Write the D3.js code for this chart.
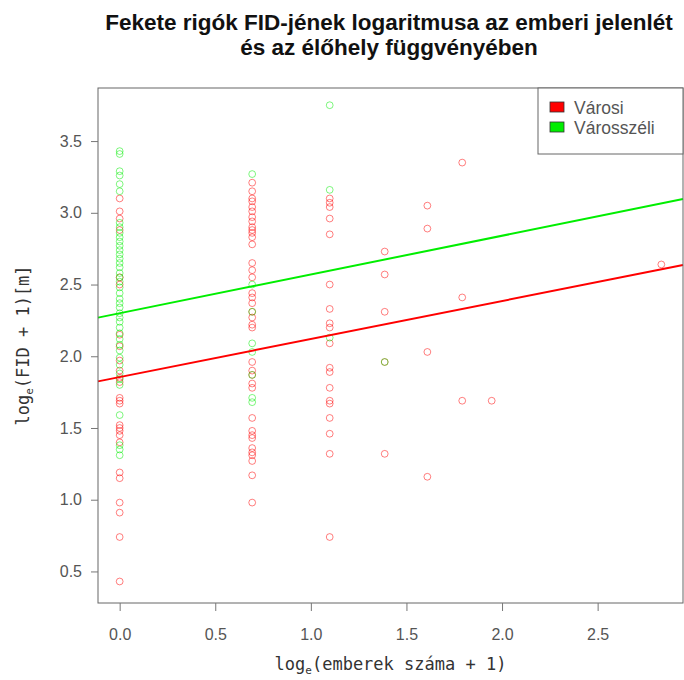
<!DOCTYPE html>
<html><head><meta charset="utf-8">
<script src="https://cdn.jsdelivr.net/npm/d3@7"></script>
<style>body{margin:0;background:#fff}</style>
</head><body><svg id="c" width="684" height="680"></svg>
<script>
// x values: log_e(number of people + 1)
const xLevels = [0, Math.log(2), Math.log(3), Math.log(4), Math.log(5), Math.log(6), Math.log(7), Math.log(17)];
// Városi (urban) y values per x level
const urbanY = [
  [3.10, 3.01, 2.96, 2.88, 2.55, 2.50, 2.15, 2.07, 1.97, 1.90, 1.85, 1.82, 1.71, 1.69, 1.67, 1.52, 1.50, 1.48, 1.45, 1.40, 1.19, 1.15, 0.98, 0.91, 0.74, 0.43],
  [3.21, 3.15, 3.10, 3.08, 3.04, 3.01, 2.97, 2.94, 2.90, 2.88, 2.86, 2.83, 2.78, 2.65, 2.60, 2.55, 2.44, 2.41, 2.37, 2.31, 2.27, 2.22, 2.20, 1.96, 1.90, 1.87, 1.81, 1.78, 1.57, 1.48, 1.45, 1.43, 1.36, 1.33, 1.31, 1.27, 1.17, 0.98],
  [3.10, 3.07, 3.04, 2.96, 2.85, 2.50, 2.33, 2.23, 2.20, 2.09, 1.92, 1.89, 1.78, 1.69, 1.67, 1.57, 1.46, 1.32, 0.74],
  [2.73, 2.57, 2.31, 1.96, 1.32],
  [3.05, 2.89, 2.03, 1.16],
  [3.35, 2.41, 1.69],
  [1.69],
  [2.64]
];
// Városszéli (suburban) y values per x level
const suburbanY = [
  [3.43, 3.41, 3.29, 3.26, 3.20, 3.15, 2.93, 2.90, 2.86, 2.83, 2.80, 2.77, 2.74, 2.71, 2.68, 2.65, 2.62, 2.58, 2.55, 2.52, 2.48, 2.44, 2.40, 2.37, 2.34, 2.30, 2.27, 2.24, 2.20, 2.16, 2.12, 2.08, 2.04, 1.99, 1.94, 1.88, 1.84, 1.80, 1.59, 1.38, 1.35, 1.31],
  [3.27, 2.50, 2.31, 2.09, 2.03, 1.87, 1.71, 1.68],
  [3.75, 3.16, 2.13],
  [1.96],
  [], [], [], []
];
// fitted lines (intercept, slope)
const urbanFit = [1.855, 0.265];
const suburbanFit = [2.30, 0.27];
const xTicks = [0, 0.5, 1, 1.5, 2, 2.5];
const yTicks = [0.5, 1, 1.5, 2, 2.5, 3, 3.5];
const groups = ["Városi", "Városszéli"];
const groupColors = ["#ff0000", "#00ee00"];

const svg = d3.select("#c");
const L = 98, R = 683, T = 88, B = 603;
const xMax = d3.max(xLevels), xPad = 0.04 * xMax;
const x = d3.scaleLinear().domain([-xPad, xMax + xPad]).range([L, R]);
const y = d3.scaleLinear().domain([0.28, 3.87]).range([B, T]);

const flat = (arr) => arr.flatMap((ys, i) => ys.map(v => ({x: xLevels[i], y: v})));
const series = [flat(urbanY), flat(suburbanY)];

// points
series.forEach((pts, gi) => {
  svg.append("g").selectAll("circle").data(pts).enter().append("circle")
    .attr("cx", d => x(d.x)).attr("cy", d => y(d.y)).attr("r", 3.4)
    .attr("fill", "none").attr("stroke", groupColors[gi])
    .attr("stroke-opacity", 0.5).attr("stroke-width", 1);
});

// fit lines
[urbanFit, suburbanFit].forEach((f, gi) => {
  const [x0, x1] = x.domain();
  svg.append("line")
    .attr("x1", x(x0)).attr("y1", y(f[0] + f[1] * x0))
    .attr("x2", x(x1)).attr("y2", y(f[0] + f[1] * x1))
    .attr("stroke", groupColors[gi]).attr("stroke-width", 2);
});

// box
svg.append("rect").attr("x", L).attr("y", T).attr("width", R - L).attr("height", B - T)
  .attr("fill", "none").attr("stroke", "#666").attr("stroke-width", 1);

// axes
const xa = svg.append("g").attr("transform", `translate(0,${B})`)
  .call(d3.axisBottom(x).tickValues(xTicks).tickFormat(d3.format(".1f")).tickSize(8).tickPadding(18));
const ya = svg.append("g").attr("transform", `translate(${L},0)`)
  .call(d3.axisLeft(y).tickValues(yTicks).tickFormat(d3.format(".1f")).tickSize(7).tickPadding(9));
[xa, ya].forEach(a => {
  a.select(".domain").remove();
  a.selectAll("line").attr("stroke", "#777");
  a.selectAll("text").attr("fill", "#555").style("font-family", "Liberation Sans, Arial, sans-serif").style("font-size", "16px");
});

// title
const title = svg.append("text").attr("x", (L + R) / 2).attr("text-anchor", "middle")
  .style("font-family", "Liberation Sans, Arial, sans-serif").style("font-weight", "bold").style("font-size", "22.5px").attr("fill", "#111");
title.append("tspan").attr("x", 389).attr("y", 30).text("Fekete rigók FID-jének logaritmusa az emberi jelenlét");
title.append("tspan").attr("x", 389).attr("y", 55).text("és az élőhely függvényében");

// axis labels (monospace)
const xl = svg.append("text").attr("x", (L + R) / 2).attr("y", 670).attr("text-anchor", "middle")
  .style("font-family", "DejaVu Sans Mono, monospace").style("font-size", "17px").attr("fill", "#333");
xl.append("tspan").text("log");
xl.append("tspan").attr("dy", 4).style("font-size", "11px").text("e");
xl.append("tspan").attr("dy", -4).text("(emberek száma + 1)");

const yl = svg.append("text").attr("transform", `translate(29,${(T + B) / 2}) rotate(-90)`).attr("text-anchor", "middle")
  .style("font-family", "DejaVu Sans Mono, monospace").style("font-size", "17px").attr("fill", "#333");
yl.append("tspan").text("log");
yl.append("tspan").attr("dy", 4).style("font-size", "11px").text("e");
yl.append("tspan").attr("dy", -4).text("(FID + 1)[m]");

// legend
const lg = svg.append("g");
lg.append("rect").attr("x", 538).attr("y", T).attr("width", R - 538).attr("height", 66)
  .attr("fill", "#fff").attr("stroke", "#666");
groups.forEach((g, i) => {
  lg.append("rect").attr("x", 550).attr("y", 102 + i * 20).attr("width", 14).attr("height", 10)
    .attr("fill", groupColors[i]).attr("stroke", "#333").attr("stroke-width", 0.8);
  lg.append("text").attr("x", 574).attr("y", 113.5 + i * 20).text(g)
    .style("font-family", "Liberation Sans, Arial, sans-serif").style("font-size", "17.5px").attr("fill", "#555");
});
</script></body></html>
